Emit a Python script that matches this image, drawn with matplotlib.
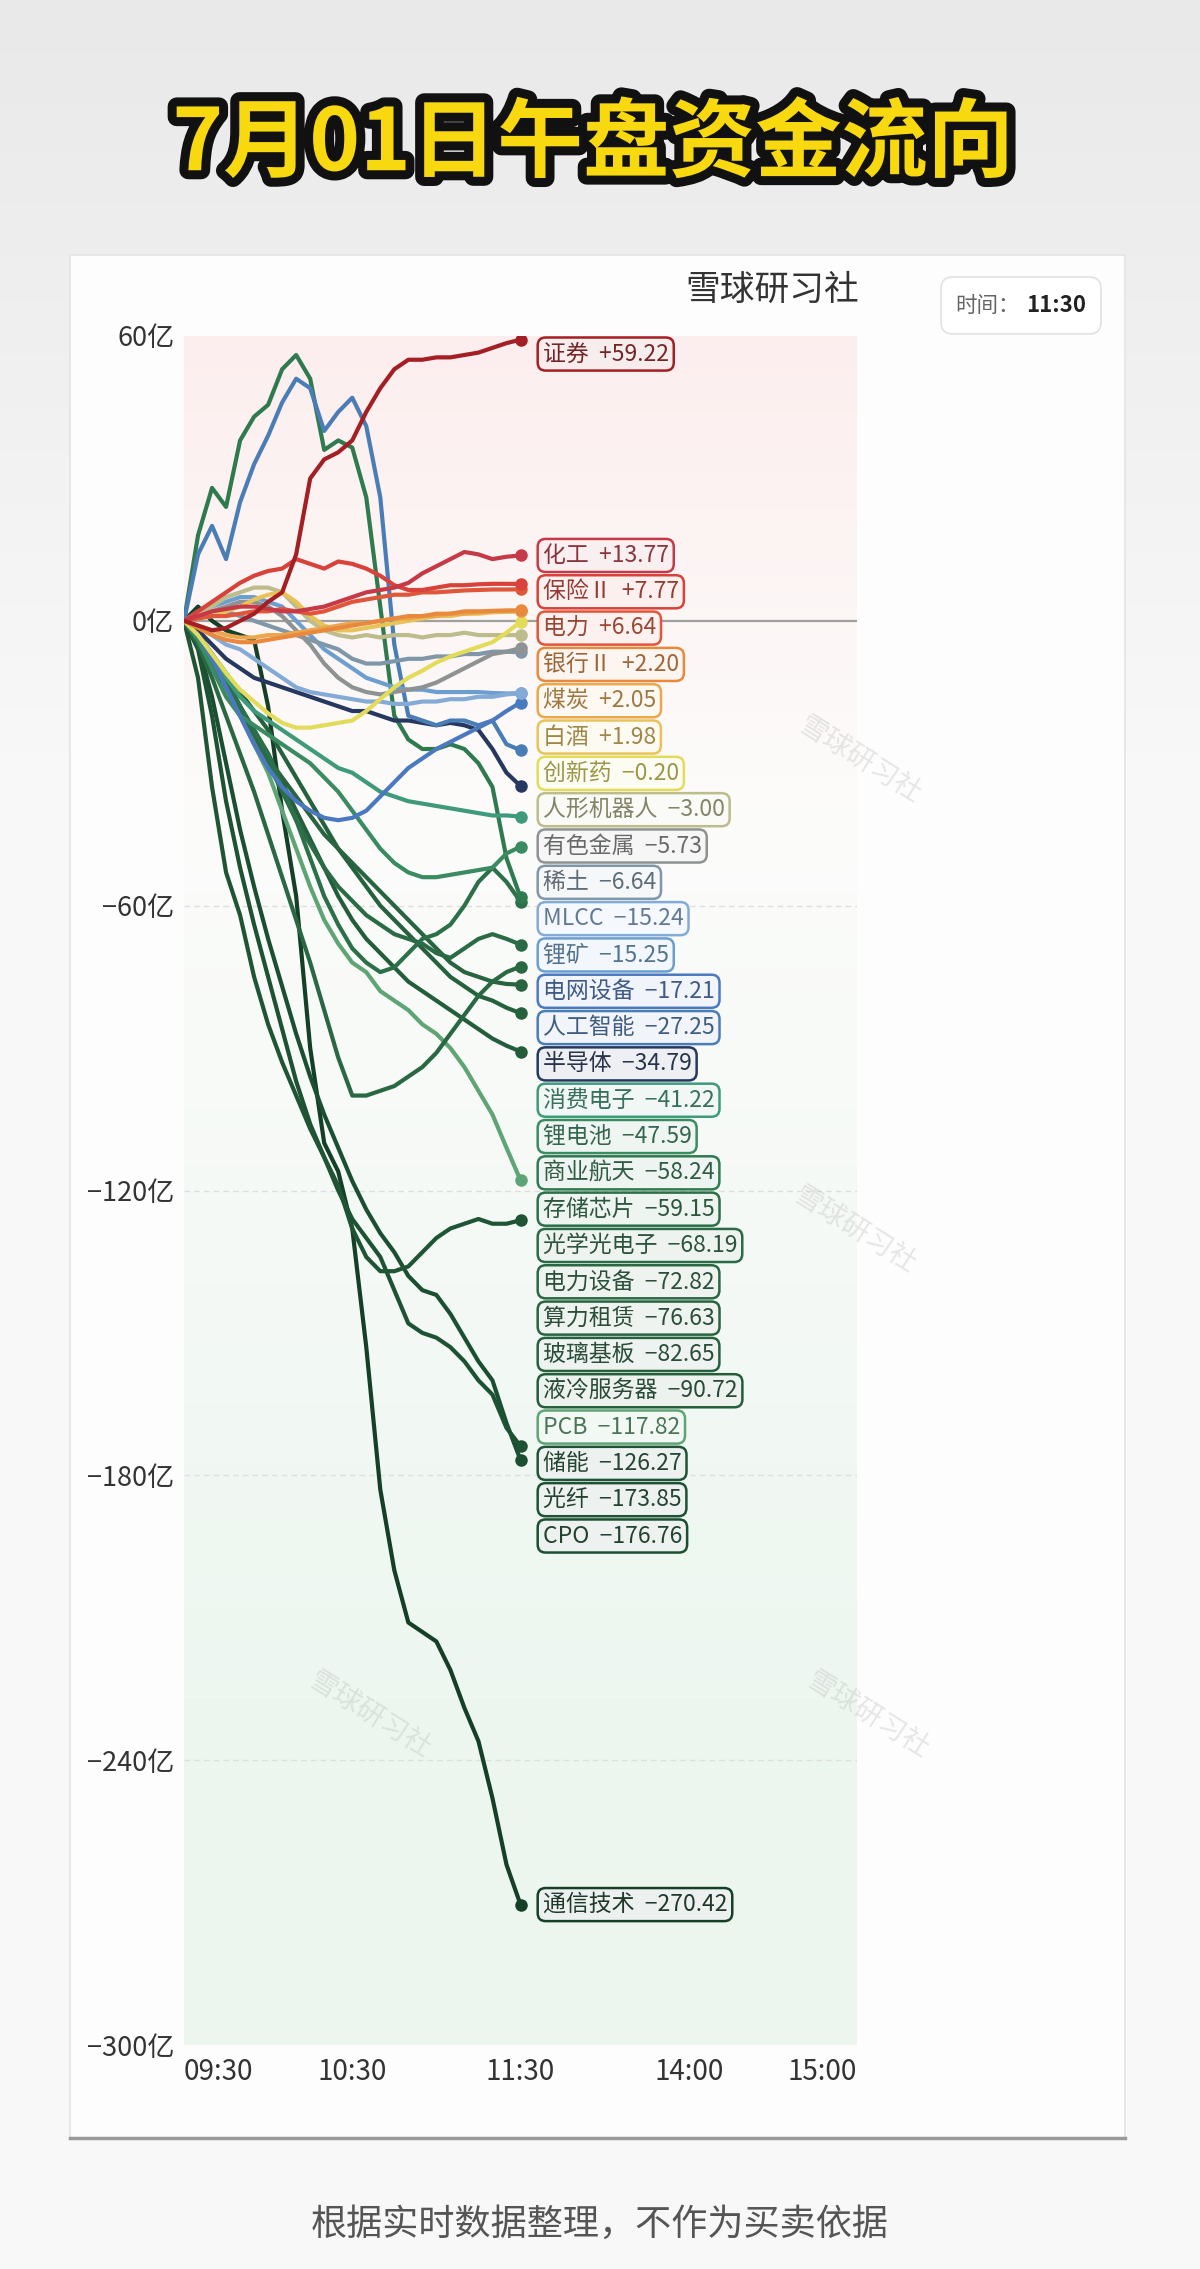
import numpy as np
import matplotlib.pyplot as plt
import matplotlib.patheffects as pe
import matplotlib.colors as mcolors
from matplotlib.patches import Rectangle, FancyBboxPatch

plt.rcParams['font.family'] = ['Noto Sans CJK SC', 'DejaVu Sans']

# minutes since 09:30 (trading time, lunch break removed)
minutes = [0, 5, 10, 15, 20, 25, 30, 35, 40, 45, 50, 55, 60,
           65, 70, 75, 80, 85, 90, 95, 100, 105, 110, 115, 120]

# cumulative net inflow, 亿
zhengquan = [0, -1, -2, -1.5, 0, 1.5, 4, 6, 14, 30, 34, 35.5, 38, 44, 49, 53, 55, 55, 55.5, 55.5, 56, 56.5, 57.5, 58.5, 59.22]
huagong = [0, 1, 2, 2.5, 3, 3, 2.5, 2, 2, 2.5, 3, 4, 5, 6, 6.5, 7, 8, 10, 11.5, 13, 14.5, 14, 13, 13.5, 13.77]
baoxian = [0, 2, 4, 6, 8, 9.5, 10.5, 11, 13, 12, 11, 12.5, 12, 11, 9.5, 7.5, 6.5, 6.5, 7, 7.5, 7.5, 7.7, 7.8, 7.8, 7.77]
dianli = [0, 0.5, 1, 1, 1.5, 2, 2, 2.5, 2, 1.5, 2, 3, 4, 4.5, 5, 5.5, 5.5, 6, 6, 6.2, 6.4, 6.5, 6.6, 6.6, 6.64]
yinhang = [0, -1.5, -3, -4, -4.5, -4.5, -4, -3.5, -3, -2.5, -2, -1.5, -1, -0.5, 0, 0.5, 1, 1, 1.5, 1.5, 2, 2, 2.1, 2.2, 2.20]
meitan = [0, -1, -2, -3, -3.5, -3.5, -3, -3, -2.5, -2, -1.5, -1, -0.5, -0.5, 0, 0.5, 0.5, 1, 1, 1.5, 1.5, 1.8, 2, 2, 2.05]
baijiu = [0, 0.5, 1, 2, 3, 4.5, 5.5, 6, 4, 1, -1, -2, -2, -1.5, -1, -0.5, 0, 0.5, 1, 1, 1.5, 1.5, 1.8, 1.9, 1.98]
chuangxinyao = [0, -3, -7, -11, -14.5, -17, -19.5, -21.5, -22.5, -22.5, -22, -21.5, -21, -19, -16.5, -14, -12, -10.5, -8.8, -7.5, -6.5, -5.5, -4.5, -2.5, -0.20]
renxing = [0, 1, 3, 5, 6, 7, 7, 6, 3, 0, -2, -3, -3.5, -3, -3.5, -3, -3, -3.5, -3, -3, -2.5, -3, -3, -3, -3.00]
youse = [0, 1, 2, 3, 4, 4, 3, 1, -2, -5, -9, -12, -14, -15, -15.5, -15, -14.5, -14, -13, -11.5, -10, -8.5, -7, -6.5, -5.73]
xitu = [0, 1, 2, 2, 1, 0, -1, -2, -3, -4, -5, -6, -8, -9, -9, -8.5, -8, -8, -7.5, -7.5, -7, -7, -6.5, -6.5, -6.64]
mlcc = [0, -1, -3, -5, -6, -8, -10, -12, -14, -15, -15.5, -16, -16.5, -17, -17, -17.5, -17.5, -17, -17, -16.5, -16.5, -16, -16, -15.5, -15.24]
likuang = [0, 2, 3, 4, 5, 5, 4, 3, 0, -3, -6, -8, -10, -12, -13, -14, -14.5, -14.5, -15, -15, -15, -15, -15.2, -15.3, -15.25]
dianwang = [0, -3, -8, -14, -20, -26, -31, -35, -38, -40, -41.5, -42, -41.5, -40, -37, -34, -31, -29, -27, -25.5, -24, -22.5, -21, -19, -17.21]
rengong = [0, 14, 20, 13, 25, 33, 39, 46, 51, 49, 40, 44, 47, 41, 26, -5, -20, -21, -22, -21, -21, -22, -21, -26, -27.25]
bandaoti = [0, -2, -5, -8, -10, -12, -13, -14, -15, -16, -17, -18, -19, -19, -20, -21, -21, -21.5, -22, -21.5, -22, -23, -27, -32, -34.79]
xiaofei = [0, -3, -8, -12, -16, -19, -21, -23, -25, -27, -29, -31, -32, -34, -36, -37, -38, -38.5, -39, -39.5, -40, -40.5, -41, -41, -41.22]
lidianchi = [0, -4, -10, -16, -20, -22, -24, -26, -28, -30, -33, -36, -40, -44, -48, -51, -53, -54, -54, -53.5, -53, -52.5, -52, -49, -47.59]
shangye = [0, 18, 28, 24, 38, 43, 45.5, 53, 56, 51, 36, 38, 36.5, 26, 3, -20, -25, -27, -27, -26, -27, -30, -35, -50, -58.24]
cunchu = [0, -3, -8, -13, -18, -23, -28, -35, -42, -50, -58, -64, -69, -72, -74, -73, -70, -67, -66, -64, -60, -55, -52, -55, -59.15]
guangxue = [0, -3, -7, -12, -18, -24, -30, -36, -42, -47, -52, -56, -59, -62, -64, -66, -67, -68, -70, -71, -69, -67, -66, -67, -68.19]
dianlisb = [0, -5, -12, -20, -28, -36, -45, -54, -63, -72, -82, -92, -100, -100, -99, -98, -96, -94, -91, -87, -83, -79, -76, -74, -72.82]
suanli = [0, -4, -9, -14, -19, -24, -29, -33, -37, -41, -45, -48, -51, -54, -57, -60, -63, -66, -69, -72, -74, -75, -76, -76.5, -76.63]
boli = [0, -3, -7, -11, -15, -19, -23, -28, -33, -38, -43, -48, -52, -56, -60, -63, -66, -69, -72, -75, -77, -79, -80, -81.5, -82.65]
yeleng = [0, -4, -8, -13, -18, -23, -28, -34, -40, -46, -52, -58, -63, -67, -70, -73, -76, -78, -80, -82, -84, -86, -88, -89.5, -90.72]
pcb = [0, -4, -9, -14, -20, -26, -32, -40, -48, -56, -63, -68, -72, -74, -78, -80, -82, -85, -87, -90, -94, -99, -104, -111, -117.82]
chuneng = [0, -12, -35, -53, -62, -75, -85, -93, -100, -107, -113, -119, -128, -134, -137, -137, -136, -133, -130, -128, -127, -126, -127, -127, -126.27]
guangxian = [0, -6, -20, -38, -52, -64, -75, -86, -97, -106, -113, -120, -126, -130, -134, -141, -148, -150, -151, -153, -156, -160, -163, -170, -173.85]
cpo = [0, -5, -16, -30, -44, -56, -67, -77, -87, -96, -104, -111, -118, -124, -129, -133, -138, -141, -142, -146, -151, -156, -160, -169, -176.76]
tongxin = [0, 3, 0, -2, -3, -4, -18, -40, -58, -90, -110, -116, -128, -153, -183, -200, -211, -213, -215, -221, -229, -236, -248, -262, -270.42]

names = ['证券', '化工', '保险Ⅱ', '电力', '银行Ⅱ', '煤炭', '白酒', '创新药', '人形机器人',
         '有色金属', '稀土', 'MLCC', '锂矿', '电网设备', '人工智能', '半导体', '消费电子',
         '锂电池', '商业航天', '存储芯片', '光学光电子', '电力设备', '算力租赁', '玻璃基板',
         '液冷服务器', 'PCB', '储能', '光纤', 'CPO', '通信技术']
series = [zhengquan, huagong, baoxian, dianli, yinhang, meitan, baijiu, chuangxinyao, renxing,
          youse, xitu, mlcc, likuang, dianwang, rengong, bandaoti, xiaofei,
          lidianchi, shangye, cunchu, guangxue, dianlisb, suanli, boli,
          yeleng, pcb, chuneng, guangxian, cpo, tongxin]
colors = ['#a31f24', '#c63a48', '#d8423a', '#e0563a', '#e8893e', '#eca74c', '#e8c35a', '#e3dc5a',
          '#bcbc8c', '#8e9292', '#8097aa', '#84aad6', '#6c9fd0', '#4b79bf', '#4a7db6', '#26385f',
          '#3f9a7c', '#3a8a62', '#2f7a4f', '#2b7049', '#2a6b45', '#296843', '#27643f', '#26613e',
          '#245d3b', '#5fa474', '#1f5535', '#1d5233', '#1b4f31', '#163f27']

time_ticks = [0, 60, 120, 180, 240]
time_labels = ['09:30', '10:30', '11:30', '14:00', '15:00']
y_ticks = [60, 0, -60, -120, -180, -240, -300]


def mix(c1, c2, t):
    a = np.array(mcolors.to_rgb(c1))
    b = np.array(mcolors.to_rgb(c2))
    return tuple(a * (1 - t) + b * t)


W, H = 1200, 2269
fig = plt.figure(figsize=(W / 100, H / 100), dpi=100)

# page background + card (pixel coords)
bg = fig.add_axes([0, 0, 1, 1])
bg.set_xlim(0, W)
bg.set_ylim(H, 0)
bg.axis('off')
grad = np.linspace(0, 1, 256)[:, None]
top_c = np.array(mcolors.to_rgb('#e9e9e9'))
bot_c = np.array(mcolors.to_rgb('#f8f8f8'))
img = top_c * (1 - np.clip(grad * 3, 0, 1))[..., None] + bot_c * np.clip(grad * 3, 0, 1)[..., None]
bg.imshow(img, extent=[0, W, H, 0], aspect='auto', zorder=0)
bg.add_patch(Rectangle((70, 255), 1055, 1883, facecolor='#fdfdfd', edgecolor='#e4e4e4', lw=1.2, zorder=1))
bg.plot([70, 1125], [2138, 2138], color='#9a9a9a', lw=2.5, zorder=2)

title = bg.text(593, 145, '7月01日午盘资金流向', fontsize=62, fontweight='black',
                color='#f8d90f', ha='center', va='center', zorder=3)
title.set_path_effects([pe.withStroke(linewidth=13, foreground='#111111')])

bg.text(772, 290, '雪球研习社', fontsize=25, color='#333333', ha='center', va='center', zorder=3)
bg.add_patch(FancyBboxPatch((941, 277), 160, 57, boxstyle='round,pad=0,rounding_size=12',
                            facecolor='white', edgecolor='#e2e2e2', lw=1.2, zorder=3))
bg.text(955, 306, '时间：', fontsize=15.5, color='#666666', ha='left', va='center', zorder=4)
bg.text(1026, 306, '11:30', fontsize=16, fontweight='bold', color='#222222', ha='left', va='center', zorder=4)

bg.text(600, 2225, '根据实时数据整理，不作为买卖依据', fontsize=26, color='#555555',
        ha='center', va='center', zorder=3)

# main plot
ax = fig.add_axes([184 / W, 1 - 2045 / H, 673 / W, 1709 / H])
ax.set_xlim(0, 240)
ax.set_ylim(-300, 60)
for s in ax.spines.values():
    s.set_visible(False)
ax.patch.set_alpha(0)

# plot area tint: pink above zero, mint towards the bottom
yy = np.linspace(60, -300, 400)
pink = np.array(mcolors.to_rgb('#fdeeee'))
white = np.array(mcolors.to_rgb('#fcfcfb'))
mint = np.array(mcolors.to_rgb('#ecf6ef'))
rows = []
for v in yy:
    if v >= -40:
        t = (60 - v) / 100
        rows.append(pink * (1 - t) + white * t)
    else:
        t = min(1, (-40 - v) / 200)
        rows.append(white * (1 - t) + mint * t)
ax.imshow(np.array(rows)[:, None, :], extent=[0, 240, -300, 60], aspect='auto', zorder=0)

for g in [-60, -120, -180, -240]:
    ax.axhline(g, color='#dedede', lw=1, ls=(0, (4, 3)), zorder=1)
ax.axhline(0, color='#a0a0a0', lw=1.6, zorder=1)

for i in range(len(series) - 1, -1, -1):
    ax.plot(minutes, series[i], color=colors[i], lw=3.0, solid_joinstyle='round',
            solid_capstyle='round', zorder=3 + (len(series) - i) * 0.01)
    ax.plot(minutes[-1], series[i][-1], 'o', ms=8, color=colors[i], zorder=4)

# labels stacked so they never overlap
gap = 7.65
top_limit = 56.2
prev = None
for i, name in enumerate(names):
    v = series[i][-1]
    ly = min(v, top_limit) if prev is None else min(v, prev - gap)
    prev = ly
    txt = f'{name}  {"+" if v >= 0 else "−"}{abs(v):.2f}'
    ax.annotate(txt, xy=(minutes[-1], ly), xycoords='data', xytext=(16, 0),
                textcoords='offset points', ha='left', va='center', fontsize=16.5,
                color=mix(colors[i], '#2e2e2e', 0.4), annotation_clip=False, zorder=6,
                bbox=dict(boxstyle='round,pad=0.22,rounding_size=0.35',
                          fc=mix(colors[i], 'white', 0.92), ec=colors[i], lw=1.8))

ax.set_yticks(y_ticks)
ax.set_yticklabels([f'{t}亿'.replace('-', '−') for t in y_ticks], fontsize=19.5, color='#333333')
ax.set_xticks(time_ticks)
ax.set_xticklabels(time_labels, fontsize=20, color='#333333')
ax.tick_params(length=0)
ax.tick_params(axis='y', pad=7)
ax.tick_params(axis='x', pad=9)
xl = ax.get_xticklabels()
xl[0].set_ha('left')
xl[-1].set_ha('right')

# faint watermark, drawn above the plot
for wx, wy in [(860, 760), (855, 1230), (370, 1715), (868, 1715)]:
    fig.text(wx / W, 1 - wy / H, '雪球研习社', fontsize=20, color='#bbbbbb', alpha=0.35,
             rotation=-32, ha='center', va='center', zorder=10)

fig.savefig('out.png', dpi=100)
